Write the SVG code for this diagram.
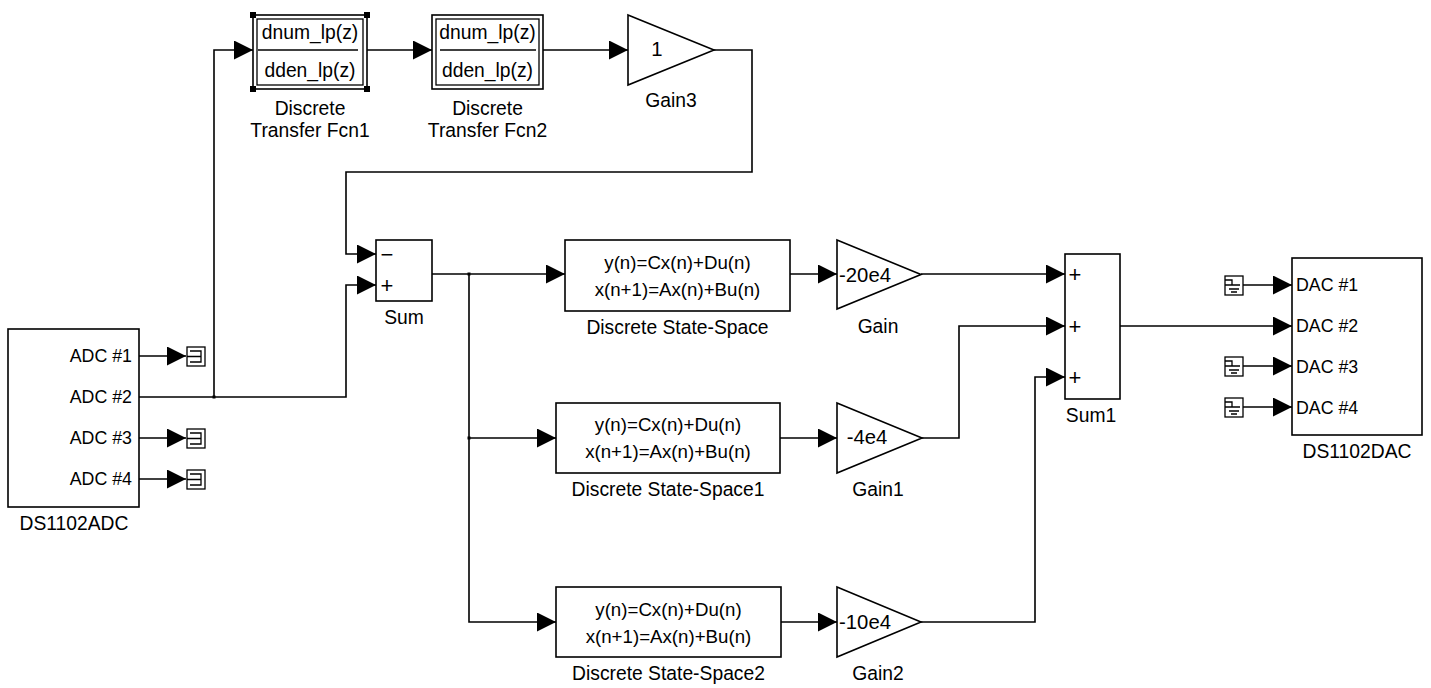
<svg xmlns="http://www.w3.org/2000/svg" width="1431" height="688" viewBox="0 0 1431 688">
<style>
.b{fill:#fff;stroke:#000;stroke-width:1.6}
.w{fill:none;stroke:#000;stroke-width:1.6}
.t{fill:none;stroke:#000;stroke-width:1.3}
text{font-family:"Liberation Sans",Arial,sans-serif;font-size:19.3px;fill:#000}
.m{text-anchor:middle}
.e{text-anchor:end}
.s{font-size:22px}
.q{font-size:18.7px}
.p{font-size:17.8px}
.g{font-size:20.3px}
</style>
<defs>
<marker id="a" markerUnits="userSpaceOnUse" markerWidth="20" markerHeight="20" refX="19" refY="9.5" orient="auto">
<path d="M0,0 L19,9.5 L0,19 z" fill="#000"/>
</marker>
</defs>
<rect width="1431" height="688" fill="#fff"/>

<g id="connectors">
<path class="w" d="M367,50 H432" marker-end="url(#a)"/>
<path class="w" d="M543,50 H628" marker-end="url(#a)"/>
<path class="w" d="M714,50 H752 V172 H346 V254 H376" marker-end="url(#a)"/>
<path class="w" d="M139,397 H346 V285 H376" marker-end="url(#a)"/>
<path class="w" d="M214,397 V50 H253" marker-end="url(#a)"/>
<path class="w" d="M432,274 H565" marker-end="url(#a)"/>
<path class="w" d="M469,274 V622 H556" marker-end="url(#a)"/>
<path class="w" d="M469,438 H556" marker-end="url(#a)"/>
<path class="w" d="M790,274 H837" marker-end="url(#a)"/>
<path class="w" d="M780,438 H837" marker-end="url(#a)"/>
<path class="w" d="M781,622 H837" marker-end="url(#a)"/>
<path class="w" d="M921,274 H1065" marker-end="url(#a)"/>
<path class="w" d="M922,438 H959 V326 H1065" marker-end="url(#a)"/>
<path class="w" d="M921,622 H1035 V377 H1065" marker-end="url(#a)"/>
<path class="w" d="M1120,326 H1292" marker-end="url(#a)"/>
<path class="w" d="M139,356 H186" marker-end="url(#a)"/>
<path class="w" d="M139,438 H186" marker-end="url(#a)"/>
<path class="w" d="M139,479 H186" marker-end="url(#a)"/>
<path class="w" d="M1243,285 H1292" marker-end="url(#a)"/>
<path class="w" d="M1243,366 H1292" marker-end="url(#a)"/>
<path class="w" d="M1243,407 H1292" marker-end="url(#a)"/>
<rect x="212.5" y="395.5" width="3" height="3" fill="#000"/>
<rect x="467.5" y="272.5" width="3" height="3" fill="#000"/>
<rect x="467.5" y="436.5" width="3" height="3" fill="#000"/>
</g>

<g id="adc">
<rect class="b" x="8" y="329" width="131" height="178"/>
<text class="e p" x="132" y="362">ADC #1</text>
<text class="e p" x="132" y="403">ADC #2</text>
<text class="e p" x="132" y="444">ADC #3</text>
<text class="e p" x="132" y="485">ADC #4</text>
<text class="m" x="74" y="530">DS1102ADC</text>
</g>

<g id="term1">
<rect class="t" x="187" y="347" width="18" height="19"/>
<path class="t" d="M190,351 H201 V362 H190 M187,356.5 H201"/>
</g>
<g id="term3">
<rect class="t" x="187" y="429" width="18" height="19"/>
<path class="t" d="M190,433 H201 V444 H190 M187,438.5 H201"/>
</g>
<g id="term4">
<rect class="t" x="187" y="470" width="18" height="19"/>
<path class="t" d="M190,474 H201 V485 H190 M187,479.5 H201"/>
</g>

<g id="tf1">
<rect class="b" x="253" y="15" width="114" height="74"/>
<rect class="t" x="257" y="19" width="106" height="66"/>
<line class="w" x1="258" y1="50" x2="358" y2="50"/>
<text class="m" x="310" y="39">dnum_lp(z)</text>
<text class="m" x="310" y="77">dden_lp(z)</text>
<rect x="250" y="12" width="6" height="6" fill="#000"/>
<rect x="364" y="12" width="6" height="6" fill="#000"/>
<rect x="250" y="86" width="6" height="6" fill="#000"/>
<rect x="364" y="86" width="6" height="6" fill="#000"/>
<text class="m" x="310" y="115">Discrete</text>
<text class="m" x="310" y="137">Transfer Fcn1</text>
</g>

<g id="tf2">
<rect class="b" x="432" y="15" width="111" height="74"/>
<rect class="t" x="436" y="19" width="103" height="66"/>
<line class="w" x1="440" y1="50" x2="536" y2="50"/>
<text class="m" x="487.5" y="39">dnum_lp(z)</text>
<text class="m" x="487.5" y="77">dden_lp(z)</text>
<text class="m" x="487.5" y="115">Discrete</text>
<text class="m" x="487.5" y="137">Transfer Fcn2</text>
</g>

<g id="gain3">
<polygon class="b" points="628,15 714,50 628,85"/>
<text class="m g" x="657" y="56">1</text>
<text class="m" x="671" y="107">Gain3</text>
</g>

<g id="sum">
<rect class="b" x="376" y="240" width="56" height="61"/>
<text class="m s" x="387" y="262">−</text>
<text class="m s" x="387" y="293">+</text>
<text class="m" x="404" y="324">Sum</text>
</g>

<g id="dss">
<rect class="b" x="565" y="240" width="225" height="71"/>
<text class="m q" x="677.5" y="269">y(n)=Cx(n)+Du(n)</text>
<text class="m q" x="677.5" y="296">x(n+1)=Ax(n)+Bu(n)</text>
<text class="m" x="677.5" y="334">Discrete State-Space</text>
</g>
<g id="dss1">
<rect class="b" x="556" y="403" width="224" height="70"/>
<text class="m q" x="668" y="431">y(n)=Cx(n)+Du(n)</text>
<text class="m q" x="668" y="458">x(n+1)=Ax(n)+Bu(n)</text>
<text class="m" x="668" y="496">Discrete State-Space1</text>
</g>
<g id="dss2">
<rect class="b" x="556" y="587" width="225" height="70"/>
<text class="m q" x="668.5" y="616">y(n)=Cx(n)+Du(n)</text>
<text class="m q" x="668.5" y="643">x(n+1)=Ax(n)+Bu(n)</text>
<text class="m" x="668.5" y="680">Discrete State-Space2</text>
</g>

<g id="gain">
<polygon class="b" points="837,240 921,274.5 837,309"/>
<text class="m g" x="865" y="282">-20e4</text>
<text class="m" x="878" y="333">Gain</text>
</g>
<g id="gain1">
<polygon class="b" points="837,403 922,438 837,473"/>
<text class="m g" x="867" y="444">-4e4</text>
<text class="m" x="878" y="496">Gain1</text>
</g>
<g id="gain2">
<polygon class="b" points="837,587 921,622 837,657"/>
<text class="m g" x="865" y="629">-10e4</text>
<text class="m" x="878" y="680">Gain2</text>
</g>

<g id="sum1">
<rect class="b" x="1065" y="254" width="55" height="145"/>
<text class="m s" x="1075" y="282">+</text>
<text class="m s" x="1075" y="334">+</text>
<text class="m s" x="1075" y="385">+</text>
<text class="m" x="1091" y="422">Sum1</text>
</g>

<g id="gnd1">
<rect class="t" x="1225" y="276" width="18" height="19"/>
<path class="t" d="M1225,280 H1232 V285 M1225,285 H1240 M1229,289 H1239 M1231,292 H1237"/>
</g>
<g id="gnd3">
<rect class="t" x="1225" y="357" width="18" height="19"/>
<path class="t" d="M1225,361 H1232 V366 M1225,366 H1240 M1229,370 H1239 M1231,373 H1237"/>
</g>
<g id="gnd4">
<rect class="t" x="1225" y="398" width="18" height="19"/>
<path class="t" d="M1225,402 H1232 V407 M1225,407 H1240 M1229,411 H1239 M1231,414 H1237"/>
</g>

<g id="dac">
<rect class="b" x="1292" y="258" width="130" height="177"/>
<text class="p" x="1296" y="291">DAC #1</text>
<text class="p" x="1296" y="332">DAC #2</text>
<text class="p" x="1296" y="373">DAC #3</text>
<text class="p" x="1296" y="414">DAC #4</text>
<text class="m" x="1357" y="458">DS1102DAC</text>
</g>
</svg>
